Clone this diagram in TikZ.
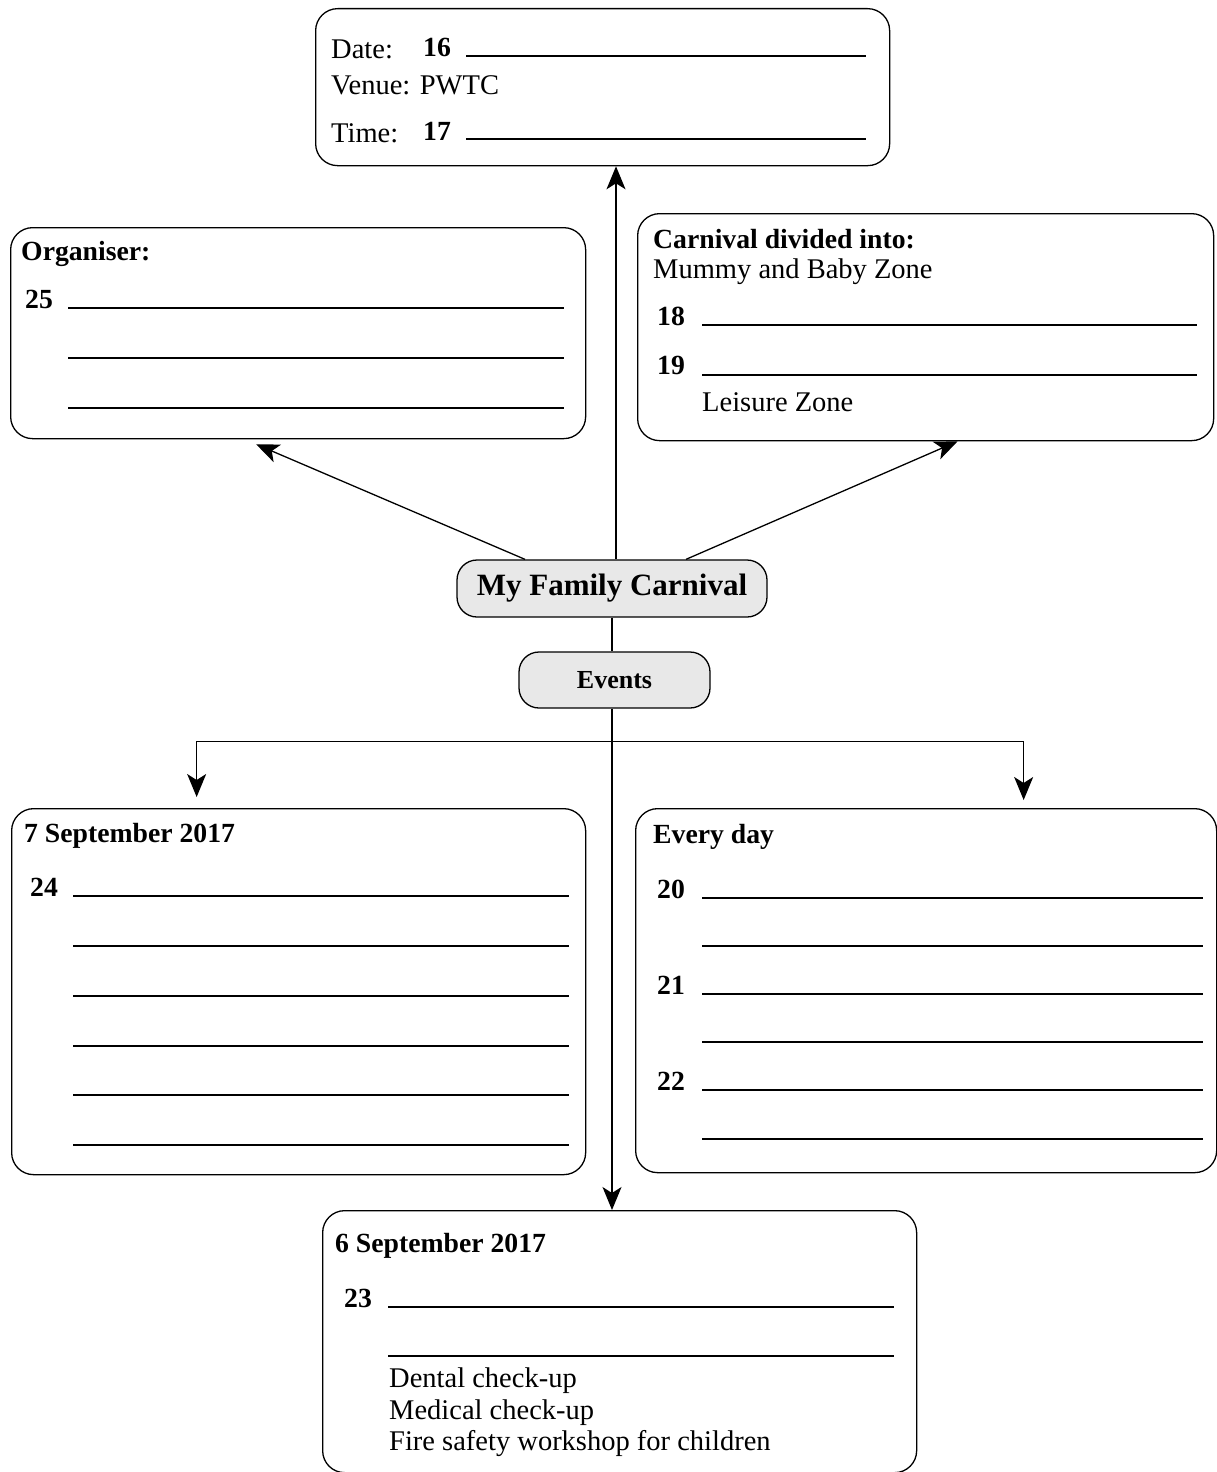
\documentclass[tikz,border=0pt]{standalone}
\usepackage{fontspec}
\setmainfont{Liberation Serif}
\usetikzlibrary{arrows.meta}
\tikzset{
  box/.style={draw, line width=1.3pt, rounded corners=22pt, inner sep=0pt, anchor=north west},
  pill/.style={draw, line width=1.3pt, rounded corners=20pt, fill=gray!18, inner sep=0pt, font=\bfseries},
  txt/.style={anchor=base west, inner sep=0pt, font=\fontsize{28.5}{34}\selectfont},
  btxt/.style={anchor=base west, inner sep=0pt, font=\fontsize{27.7}{32}\selectfont\bfseries},
  ul/.style={line width=1.3pt},
  conn/.style={line width=1.3pt},
  arr/.style={line width=1.3pt, -{Stealth[length=23pt,width=19pt,inset=6pt]}}
}
\begin{document}
\begin{tikzpicture}[x=1pt,y=-1pt]
\useasboundingbox (0,0) rectangle (1217,1472);

% boxes
\node[box, minimum width=574pt, minimum height=157pt] (top) at (315,8) {};
\node[box, minimum width=575pt, minimum height=211pt] (org) at (10,227) {};
\node[box, minimum width=576pt, minimum height=227pt] (carn) at (637,213) {};
\node[box, minimum width=574pt, minimum height=366pt] (sepseven) at (11,808) {};
\node[box, minimum width=581pt, minimum height=364pt] (every) at (635,808) {};
\node[box, minimum width=594pt, minimum height=262pt] (sepsix) at (322,1210) {};

\node[pill, minimum width=310pt, minimum height=57pt, font=\fontsize{31}{36}\selectfont\bfseries] (fam) at (612,588.5) {My Family Carnival};
\node[pill, minimum width=191pt, minimum height=56pt, font=\fontsize{26}{30}\selectfont\bfseries] (events) at (614.5,680) {Events};

% top box
\node[txt] (datel) at (331,59) {Date:};
\node[btxt] (n16) at (423,57) {16};
\draw[ul] (466,56) -- (866,56);
\node[txt] (venue) at (331,95) {Venue: PWTC};
\node[txt] (timel) at (331,142) {Time:};
\node[btxt] (n17) at (423,140) {17};
\draw[ul] (466,139) -- (866,139);

% organiser
\node[btxt] (orgt) at (21,260) {Organiser:};
\node[btxt] (n25) at (25,308) {25};
\draw[ul] (68,308) -- (564,308);
\draw[ul] (68,358) -- (564,358);
\draw[ul] (68,408) -- (564,408);

% carnival divided
\node[btxt] (carnt) at (653,248) {Carnival divided into:};
\node[txt] (mummy) at (653,278) {Mummy and Baby Zone};
\node[btxt] (n18) at (657,325) {18};
\draw[ul] (702,325) -- (1197,325);
\node[btxt] (n19) at (657,374) {19};
\draw[ul] (702,375) -- (1197,375);
\node[txt] (leisure) at (702,411) {Leisure Zone};

% 7 September
\node[btxt] (s7t) at (24,842) {7 September 2017};
\node[btxt] (n24) at (30,896) {24};
\foreach \yy in {896,946,996,1046,1095,1145} \draw[ul] (73,\yy) -- (569,\yy);

% every day
\node[btxt] (evt) at (653,843) {Every day};
\node[btxt] (n20) at (657,898) {20};
\node[btxt] (n21) at (657,994) {21};
\node[btxt] (n22) at (657,1090) {22};
\foreach \yy in {898,946,994,1042,1090,1139} \draw[ul] (702,\yy) -- (1203,\yy);

% 6 September
\node[btxt] (s6t) at (335,1252) {6 September 2017};
\node[btxt] (n23) at (344,1307) {23};
\draw[ul] (388,1307) -- (894,1307);
\draw[ul] (388,1356) -- (894,1356);
\node[txt] (dental) at (389,1387) {Dental check-up};
\node[txt] (medical) at (389,1419) {Medical check-up};
\node[txt] (fire) at (389,1450) {Fire safety workshop for children};

% connectors
\draw[arr] ([xshift=4pt]fam.north) -- ([xshift=4pt]fam.north |- top.south);
\draw[arr] ([xshift=-87pt]fam.north) -- ([xshift=-42pt,yshift=-5pt]org.south);
\draw[arr] ([xshift=74pt]fam.north) -- ([xshift=32pt]carn.south);
\draw[conn] (fam.south) -- (fam.south |- events.north);
\draw[arr] ([xshift=-2.5pt]events.south) -- ([xshift=-2.5pt]events.south |- sepsix.north);
\path ([xshift=-2.5pt]events.south) ++(0,33) coordinate (br);
\draw[arr] (br) -| ([xshift=-102pt,yshift=11pt]sepseven.north);
\draw[arr] (br) -| ([xshift=97.5pt,yshift=8pt]every.north);
\end{tikzpicture}
\end{document}
